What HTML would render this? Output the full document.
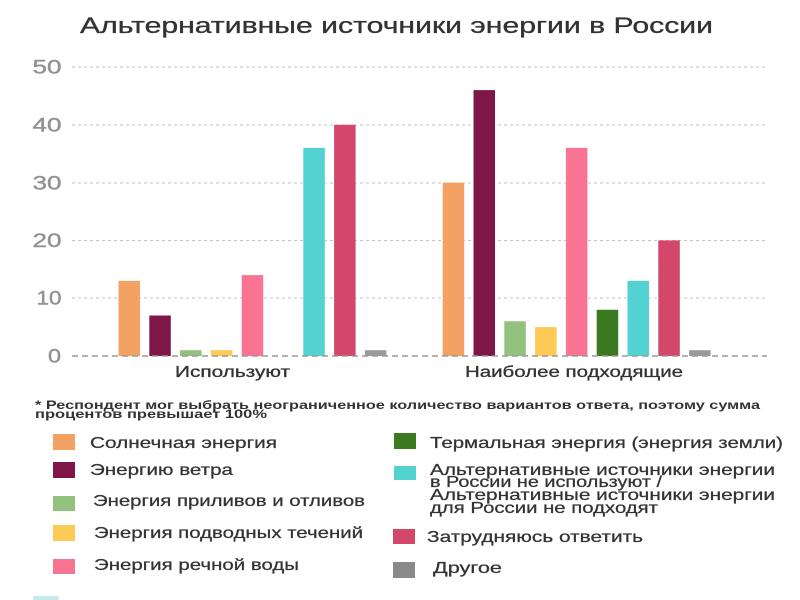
<!DOCTYPE html>
<html>
<head>
<meta charset="utf-8">
<style>
html,body{margin:0;padding:0;background:#fff;}
svg{display:block;}
text{font-family:"Liberation Sans","Noto Sans CJK SC",sans-serif;}
</style>
</head>
<body>
<svg width="800" height="600" viewBox="0 0 800 600" xmlns="http://www.w3.org/2000/svg">
<rect width="800" height="600" fill="#fff"/>
<!-- Title -->
<text x="80" y="33" font-size="22" fill="#333" stroke="#333" stroke-width="0.3" textLength="633" lengthAdjust="spacingAndGlyphs">Альтернативные источники энергии в России</text>

<!-- Gridlines -->
<g stroke="#c4c4c4" stroke-width="1" stroke-dasharray="3,3">
<line x1="72" y1="67" x2="767" y2="67"/>
<line x1="72" y1="125" x2="767" y2="125"/>
<line x1="72" y1="183" x2="767" y2="183"/>
<line x1="72" y1="240.5" x2="767" y2="240.5"/>
<line x1="72" y1="298" x2="767" y2="298"/>
</g>

<!-- Y labels -->
<g font-size="19.5" fill="#929292" stroke="#929292" stroke-width="0.4" text-anchor="end">
<text x="61.5" y="73.5" textLength="29" lengthAdjust="spacingAndGlyphs">50</text>
<text x="61.5" y="131.5" textLength="29" lengthAdjust="spacingAndGlyphs">40</text>
<text x="61.5" y="189.5" textLength="29" lengthAdjust="spacingAndGlyphs">30</text>
<text x="61.5" y="247" textLength="29" lengthAdjust="spacingAndGlyphs">20</text>
<text x="61.5" y="304.5" textLength="25" lengthAdjust="spacingAndGlyphs">10</text>
<text x="61" y="362.5" textLength="13" lengthAdjust="spacingAndGlyphs">0</text>
</g>

<!-- Bars group 1 -->
<g>
<rect x="118.5" y="280.9" width="21.5" height="75.1" fill="#F3A263"/>
<rect x="149.3" y="315.5" width="21.5" height="40.5" fill="#7E1747"/>
<rect x="180.1" y="350.2" width="21.5" height="5.8" fill="#92C27D"/>
<rect x="210.9" y="350.2" width="21.5" height="5.8" fill="#FDCB55"/>
<rect x="241.7" y="275.1" width="21.5" height="80.9" fill="#F87492"/>
<rect x="303.3" y="147.9" width="21.5" height="208.1" fill="#52D2D0"/>
<rect x="334.1" y="124.8" width="21.5" height="231.2" fill="#D3486A"/>
<rect x="364.9" y="350.2" width="21.5" height="5.8" fill="#9a9a9a"/>
</g>
<!-- Bars group 2 -->
<g>
<rect x="442.7" y="182.6" width="21.5" height="173.4" fill="#F3A263"/>
<rect x="473.5" y="90.1" width="21.5" height="265.9" fill="#7E1747"/>
<rect x="504.3" y="321.3" width="21.5" height="34.7" fill="#92C27D"/>
<rect x="535.1" y="327.1" width="21.5" height="28.9" fill="#FDCB55"/>
<rect x="565.9" y="147.9" width="21.5" height="208.1" fill="#F87492"/>
<rect x="596.7" y="309.8" width="21.5" height="46.2" fill="#3C7A22"/>
<rect x="627.5" y="280.9" width="21.5" height="75.1" fill="#52D2D0"/>
<rect x="658.3" y="240.4" width="21.5" height="115.6" fill="#D3486A"/>
<rect x="689.1" y="350.2" width="21.5" height="5.8" fill="#9a9a9a"/>
</g>

<!-- Baseline -->
<line x1="72" y1="356" x2="767" y2="356" stroke="#9a9a9a" stroke-width="1.5" stroke-dasharray="6,4"/>

<!-- Group labels -->
<text x="175" y="377" font-size="16" fill="#333" stroke="#333" stroke-width="0.3" textLength="115" lengthAdjust="spacingAndGlyphs">Используют</text>
<text x="465" y="377" font-size="16" fill="#333" stroke="#333" stroke-width="0.3" textLength="218" lengthAdjust="spacingAndGlyphs">Наиболее подходящие</text>

<!-- Footnote -->
<text x="35" y="409" font-size="12" font-weight="bold" fill="#333" textLength="725" lengthAdjust="spacingAndGlyphs">* Респондент мог выбрать неограниченное количество вариантов ответа, поэтому сумма</text>
<text x="35" y="418" font-size="12" font-weight="bold" fill="#333" textLength="232" lengthAdjust="spacingAndGlyphs">процентов превышает 100%</text>

<!-- Legend left -->
<g font-size="16" fill="#333" stroke="#333" stroke-width="0.25">
<rect x="53" y="434" width="22" height="16" fill="#F3A263" stroke="none"/>
<text x="90" y="448" textLength="187" lengthAdjust="spacingAndGlyphs">Солнечная энергия</text>
<rect x="53" y="462" width="22" height="16" fill="#7E1747" stroke="none"/>
<text x="90" y="475" textLength="143" lengthAdjust="spacingAndGlyphs">Энергию ветра</text>
<rect x="53" y="496" width="22" height="15" fill="#92C27D" stroke="none"/>
<text x="93" y="506" textLength="272" lengthAdjust="spacingAndGlyphs">Энергия приливов и отливов</text>
<rect x="53" y="525" width="22" height="16" fill="#FDCB55" stroke="none"/>
<text x="94" y="538" textLength="269" lengthAdjust="spacingAndGlyphs">Энергия подводных течений</text>
<rect x="53" y="559" width="22" height="15" fill="#F87492" stroke="none"/>
<text x="94" y="570" textLength="205" lengthAdjust="spacingAndGlyphs">Энергия речной воды</text>
</g>

<!-- Legend right -->
<g font-size="16" fill="#333" stroke="#333" stroke-width="0.25">
<rect x="394" y="433" width="22" height="16" fill="#3C7A22" stroke="none"/>
<text x="430" y="448" textLength="353" lengthAdjust="spacingAndGlyphs">Термальная энергия (энергия земли)</text>
<rect x="394" y="466" width="22" height="14" fill="#52D2D0" stroke="none"/>
<text x="430" y="475" textLength="345" lengthAdjust="spacingAndGlyphs">Альтернативные источники энергии</text>
<text x="430" y="487" textLength="232" lengthAdjust="spacingAndGlyphs">в России не используют /</text>
<text x="430" y="500" textLength="345" lengthAdjust="spacingAndGlyphs">Альтернативные источники энергии</text>
<text x="430" y="513" textLength="228" lengthAdjust="spacingAndGlyphs">для России не подходят</text>
<rect x="393" y="529" width="22" height="15" fill="#D3486A" stroke="none"/>
<text x="427" y="542" textLength="216" lengthAdjust="spacingAndGlyphs">Затрудняюсь ответить</text>
<rect x="393" y="562" width="22" height="16" fill="#8a8a8a" stroke="none"/>
<text x="433" y="573" textLength="69" lengthAdjust="spacingAndGlyphs">Другое</text>
</g>

<!-- bottom partial artifact -->
<rect x="33" y="596" width="26" height="4" rx="2" fill="#9fdcdc" opacity="0.6"/>
</svg>
</body>
</html>
